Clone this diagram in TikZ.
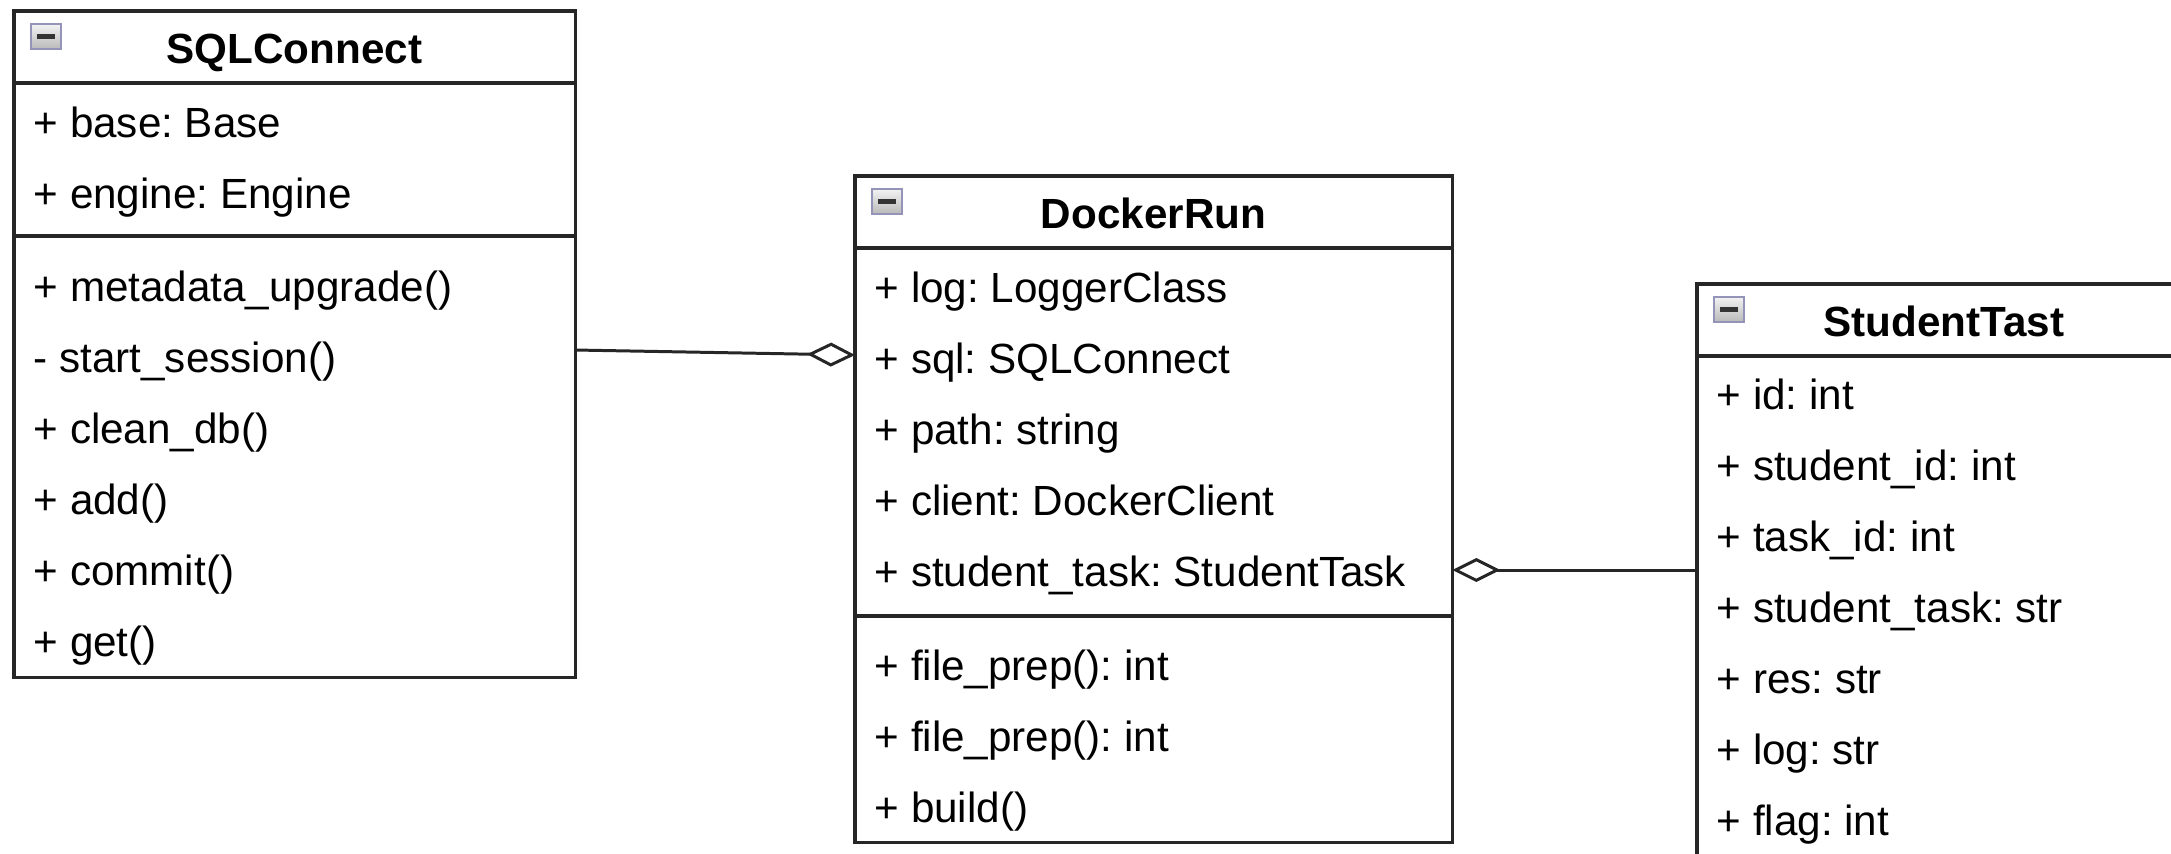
\documentclass[tikz,border=0pt]{standalone}
\usepackage{fontspec}
\setmainfont{Liberation Sans}
\usetikzlibrary{arrows.meta,calc}
\frenchspacing
\begin{document}
\begin{tikzpicture}[x=0.01cm,y=-0.01cm,
  box/.style={draw=black!85, line width=0.9pt, anchor=north west, inner sep=0pt, outer sep=0pt},
  sepline/.style={draw=black!85, line width=0.9pt},
  title/.style={anchor=base, inner sep=0pt, font=\fontsize{12}{14}\selectfont\bfseries\frenchspacing},
  row/.style={anchor=base west, inner sep=0pt, font=\fontsize{12}{14}\selectfont\frenchspacing},
  agg/.style={draw=black!85, line width=0.85pt, -{Diamond[open,length=0.48cm,width=0.24cm]}},
  icon/.style={draw=gray!80!blue!70, line width=0.6pt, top color=gray!10, bottom color=gray!55, anchor=north west, minimum width=0.3cm, minimum height=0.25cm, inner sep=0pt, outer sep=0pt},
  minus/.style={draw=black!80, line width=1.3pt}
]
\useasboundingbox (0,0) rectangle (2171,853);
\clip (0,0) rectangle (2171,853);

% ---------- SQLConnect ----------
\node[box, minimum width=5.61cm, minimum height=6.66cm] (sql) at (14,11) {};
\draw[sepline] ($(sql.north west)+(0,72)$) -- ($(sql.north east)+(0,72)$);
\draw[sepline] ($(sql.north west)+(0,225)$) -- ($(sql.north east)+(0,225)$);
\node[icon] (sqlicon) at (31,24) {};
\draw[minus] ($(sqlicon.center)+(-9,0)$) -- ($(sqlicon.center)+(9,0)$);
\node[title] (sqlt) at (294.5,63) {SQLConnect};
\node[row] (sqla1) at (33,137) {+ base: Base};
\node[row] (sqla2) at (33,208) {+ engine: Engine};
\node[row] (sqlm1) at (33,301) {+ metadata\_upgrade()};
\node[row] (sqlm2) at (33,372) {- start\_session()};
\node[row] (sqlm3) at (33,443) {+ clean\_db()};
\node[row] (sqlm4) at (33,514) {+ add()};
\node[row] (sqlm5) at (33,585) {+ commit()};
\node[row] (sqlm6) at (33,656) {+ get()};

% ---------- DockerRun ----------
\node[box, minimum width=5.97cm, minimum height=6.66cm] (dock) at (855,176) {};
\draw[sepline] ($(dock.north west)+(0,72)$) -- ($(dock.north east)+(0,72)$);
\draw[sepline] ($(dock.north west)+(0,440)$) -- ($(dock.north east)+(0,440)$);
\node[icon] (dockicon) at (872,189) {};
\draw[minus] ($(dockicon.center)+(-9,0)$) -- ($(dockicon.center)+(9,0)$);
\node[title] (dockt) at (1153.5,228) {DockerRun};
\node[row] (docka1) at (874,302) {+ log: LoggerClass};
\node[row] (docka2) at (874,373) {+ sql: SQLConnect};
\node[row] (docka3) at (874,444) {+ path: string};
\node[row] (docka4) at (874,515) {+ client: DockerClient};
\node[row] (docka5) at (874,586) {+ student\_task: StudentTask};
\node[row] (dockm1) at (874,680) {+ file\_prep(): int};
\node[row] (dockm2) at (874,751) {+ file\_prep(): int};
\node[row] (dockm3) at (874,822) {+ build()};

% ---------- StudentTast ----------
\node[box, minimum width=4.94cm, minimum height=6.5cm] (stu) at (1697,284) {};
\draw[sepline] ($(stu.north west)+(0,72)$) -- ($(stu.north east)+(0,72)$);
\node[icon] (stuicon) at (1714,297) {};
\draw[minus] ($(stuicon.center)+(-9,0)$) -- ($(stuicon.center)+(9,0)$);
\node[title] (stut) at (1944,336) {StudentTast};
\node[row] (stua1) at (1716,409) {+ id: int};
\node[row] (stua2) at (1716,480) {+ student\_id: int};
\node[row] (stua3) at (1716,551) {+ task\_id: int};
\node[row] (stua4) at (1716,622) {+ student\_task: str};
\node[row] (stua5) at (1716,693) {+ res: str};
\node[row] (stua6) at (1716,764) {+ log: str};
\node[row] (stua7) at (1716,835) {+ flag: int};

% ---------- connectors ----------
\draw[agg] ($(sql.north east)+(0,339)$) -- ($(dock.north west)+(0,179)$);
\draw[agg] ($(stu.north west)+(0,286)$) -- ($(dock.north east)+(0,394)$);
\end{tikzpicture}
\end{document}
